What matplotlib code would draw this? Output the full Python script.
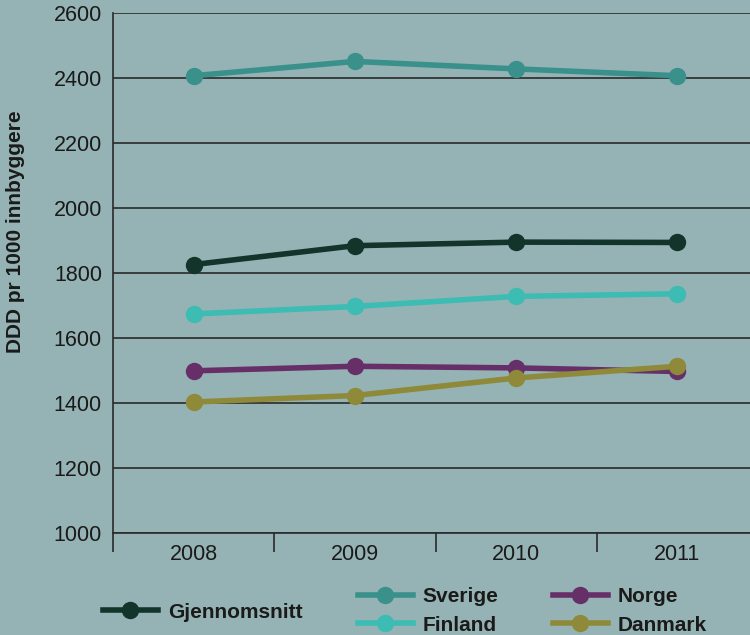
import matplotlib.pyplot as plt
from matplotlib.lines import Line2D

years = ['2008', '2009', '2010', '2011']
gjennomsnitt = [1826, 1884, 1895, 1894]
sverige = [2407, 2451, 2428, 2407]
finland = [1674, 1697, 1728, 1736]
norge = [1499, 1513, 1508, 1497]
danmark = [1403, 1423, 1477, 1513]

bg = '#95b3b4'
colors = {
    'Gjennomsnitt': '#13342b',
    'Sverige': '#3a918b',
    'Finland': '#3cbcb2',
    'Norge': '#672f68',
    'Danmark': '#8e8a3a',
}

plt.rcParams['font.family'] = ['Liberation Sans', 'DejaVu Sans']

fig = plt.figure(figsize=(7.5, 6.35), dpi=100, facecolor=bg)
ax = fig.add_axes([113 / 750, 1 - 533 / 635, 645 / 750, 520 / 635], facecolor=bg)

x = list(range(len(years)))
series = [('Sverige', sverige), ('Finland', finland), ('Norge', norge),
          ('Danmark', danmark), ('Gjennomsnitt', gjennomsnitt)]
for name, vals in series:
    ax.plot(x, vals, color=colors[name], lw=4, marker='o', ms=11.5,
            solid_capstyle='round', zorder=3)

ax.set_xlim(-0.5, 3.5)
ax.set_ylim(1000, 2600)
ax.set_yticks(range(1000, 2601, 200))
ax.tick_params(axis='y', length=0, labelsize=15.5, pad=8, colors='#1a1a1a')
ax.grid(axis='y', color='#2a2a2a', lw=1.2, zorder=1)
ax.set_axisbelow(True)

ax.set_xticks(x)
ax.set_xticklabels(years)
ax.set_xticks([-0.5, 0.5, 1.5, 2.5, 3.5], minor=True)
ax.tick_params(axis='x', which='major', length=0, labelsize=15.5, pad=8, colors='#1a1a1a')
ax.tick_params(axis='x', which='minor', length=14, width=1.2, color='#2a2a2a', direction='out')

for s in ['top', 'right']:
    ax.spines[s].set_visible(False)
for s in ['left', 'bottom']:
    ax.spines[s].set_color('#2a2a2a')
    ax.spines[s].set_linewidth(1.2)

fig.text(16 / 750, 1 - 232 / 635, 'DDD pr 1000 innbyggere', rotation=90, ha='center',
         va='center', fontsize=15, fontweight='bold', color='#1a1a1a')


def handle(name):
    return Line2D([], [], color=colors[name], lw=4, marker='o', ms=11.5)


leg_kw = dict(frameon=False, handlelength=2.6, handletextpad=0.5, labelspacing=0.45,
              prop={'size': 15, 'weight': 'bold'}, labelcolor='#1a1a1a', borderaxespad=0)
fig.legend([handle('Gjennomsnitt')], ['Gjennomsnitt'], loc='center left',
           bbox_to_anchor=(95 / 750, 1 - 612 / 635), **leg_kw)
fig.legend([handle('Sverige'), handle('Finland')], ['Sverige', 'Finland'],
           loc='center left', bbox_to_anchor=(350 / 750, 1 - 611 / 635), **leg_kw)
fig.legend([handle('Norge'), handle('Danmark')], ['Norge', 'Danmark'],
           loc='center left', bbox_to_anchor=(545 / 750, 1 - 611 / 635), **leg_kw)

fig.savefig('out.png', dpi=100, facecolor=bg)
